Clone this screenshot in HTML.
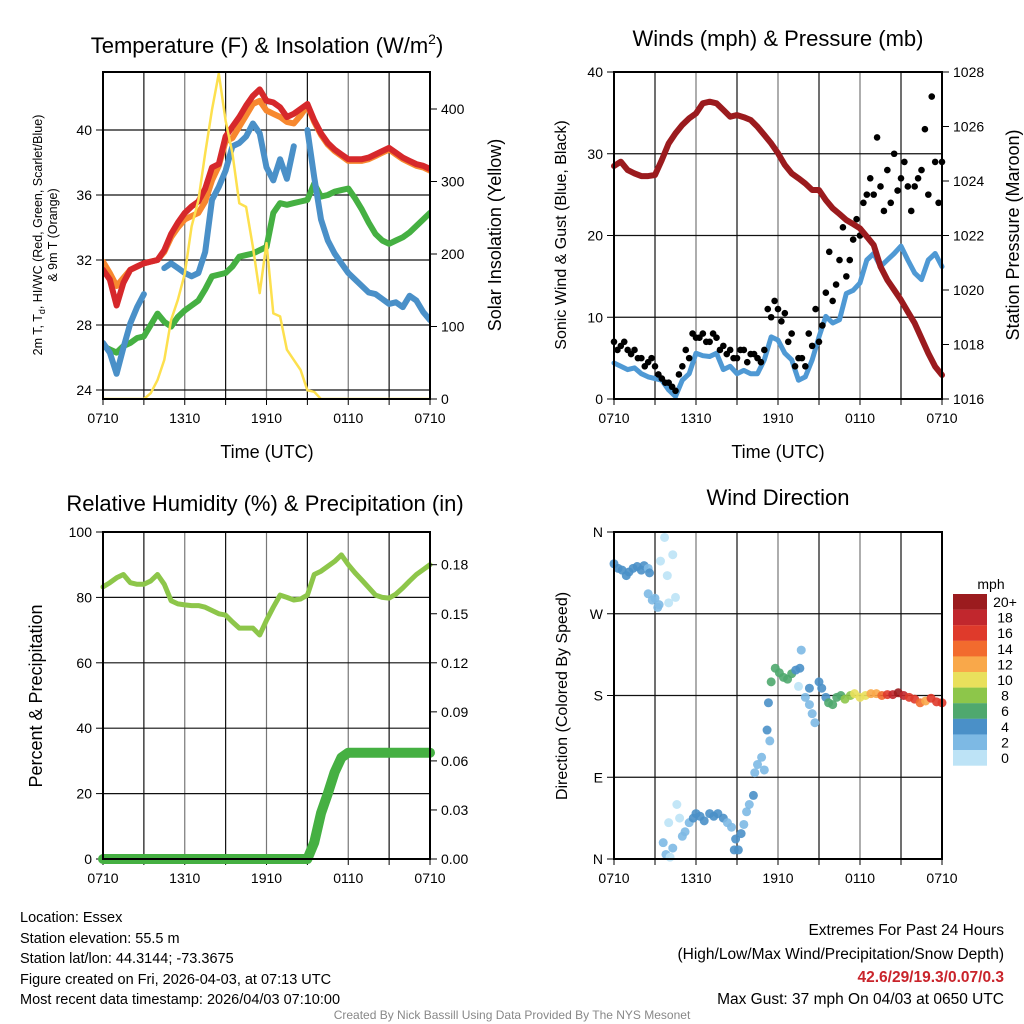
<!DOCTYPE html>
<html><head><meta charset="utf-8"><style>
html,body{margin:0;padding:0;background:#fff;}
svg{display:block;font-family:"Liberation Sans",Arial,sans-serif;}
</style></head><body>
<svg id="fig" width="1024" height="1024" viewBox="0 0 1024 1024" xmlns="http://www.w3.org/2000/svg">
<rect width="1024" height="1024" fill="#fff"/>
<g id="layer"></g>
<text x="267" y="53" font-size="22" text-anchor="middle">Temperature (F) &amp; Insolation (W/m<tspan dy="-9" font-size="14">2</tspan><tspan dy="9">)</tspan></text>
<text x="778" y="46" font-size="22" text-anchor="middle">Winds (mph) &amp; Pressure (mb)</text>
<text x="265" y="511" font-size="22" text-anchor="middle">Relative Humidity (%) &amp; Precipitation (in)</text>
<text x="778" y="505" font-size="22" text-anchor="middle">Wind Direction</text>
<text x="267" y="458" font-size="18" text-anchor="middle">Time (UTC)</text>
<text x="778" y="458" font-size="18" text-anchor="middle">Time (UTC)</text>
<text transform="translate(42,235) rotate(-90)" font-size="12.5" text-anchor="middle">2m T, T<tspan dy="3" font-size="9">d</tspan><tspan dy="-3">, HI/WC (Red, Green, Scarlet/Blue)</tspan></text>
<text transform="translate(57,235) rotate(-90)" font-size="12.5" text-anchor="middle">&amp; 9m T (Orange)</text>
<text transform="translate(501,235) rotate(-90)" font-size="18" text-anchor="middle">Solar Insolation (Yellow)</text>
<text transform="translate(566,235) rotate(-90)" font-size="16" text-anchor="middle">Sonic Wind &amp; Gust (Blue, Black)</text>
<text transform="translate(1019,235) rotate(-90)" font-size="18" text-anchor="middle">Station Pressure (Maroon)</text>
<text transform="translate(42,696) rotate(-90)" font-size="18" text-anchor="middle">Percent &amp; Precipitation</text>
<text transform="translate(567,696) rotate(-90)" font-size="16" text-anchor="middle">Direction (Colored By Speed)</text>
<g font-size="14.5">
<text x="20" y="922">Location: Essex</text>
<text x="20" y="943">Station elevation: 55.5 m</text>
<text x="20" y="963">Station lat/lon: 44.3144; -73.3675</text>
<text x="20" y="984">Figure created on Fri, 2026-04-03, at 07:13 UTC</text>
<text x="20" y="1004">Most recent data timestamp: 2026/04/03 07:10:00</text>
</g>
<g font-size="15.5" text-anchor="end">
<text x="1004" y="935">Extremes For Past 24 Hours</text>
<text x="1004" y="959">(High/Low/Max Wind/Precipitation/Snow Depth)</text>
<text x="1004" y="982" fill="#c9242b" font-weight="bold">42.6/29/19.3/0.07/0.3</text>
<text x="1004" y="1004">Max Gust: 37 mph On 04/03 at 0650 UTC</text>
</g>
<text x="512" y="1019" font-size="12" fill="#888" text-anchor="middle">Created By Nick Bassill Using Data Provided By The NYS Mesonet</text>
</svg>
<script>
const hours = [0,0.5,1,1.5,2,2.5,3,3.5,4,4.5,5,5.5,6,6.5,7,7.5,8,8.5,9,9.5,10,10.5,11,11.5,12,12.5,13,13.5,14,14.5,15,15.5,16,16.5,17,17.5,18,18.5,19,19.5,20,20.5,21,21.5,22,22.5,23,23.5,24];
const temp2m = [31.4,30.8,29.2,30.6,31.4,31.6,31.8,31.9,32.0,32.6,33.6,34.3,34.9,35.3,35.6,36.4,37.7,37.9,39.6,40.2,40.8,41.5,42.1,42.5,41.8,41.7,41.4,40.8,41.0,41.3,41.6,40.6,39.8,39.2,38.8,38.5,38.2,38.2,38.2,38.3,38.5,38.7,38.9,38.6,38.3,38.1,37.9,37.8,37.6];
const temp9m = [31.9,31.2,30.4,30.9,31.4,31.6,31.8,31.9,32.0,32.5,33.4,34.0,34.5,34.7,34.9,35.6,36.9,37.8,39.3,39.5,40.2,40.9,41.6,41.8,41.2,41.0,40.8,40.5,40.4,40.9,41.5,40.5,39.7,39.1,38.7,38.4,38.1,38.1,38.1,38.2,38.4,38.6,38.8,38.5,38.2,38.0,37.8,37.7,37.5];
const heatWC = [26.9,26.3,25.0,26.6,28.1,29.1,29.9,null,null,31.5,31.8,31.5,31.2,31.0,31.2,32.5,35.7,36.5,37.5,39.0,39.2,39.6,40.4,39.8,37.7,36.9,38.2,37.0,39.0,null,40.0,37.1,34.5,33.2,32.4,31.8,31.2,30.8,30.4,30.0,29.9,29.6,29.3,29.4,29.1,29.8,29.5,28.8,28.3];
const dewpt = [26.7,26.5,26.3,26.7,26.9,27.2,27.3,28.0,28.7,28.2,27.9,28.5,28.9,29.2,29.5,30.2,31.0,31.1,31.2,31.6,32.2,32.3,32.4,32.6,32.8,34.9,35.5,35.4,35.5,35.6,35.7,36.7,35.9,36.0,36.2,36.3,36.4,35.8,35.1,34.3,33.6,33.2,33.0,33.2,33.4,33.7,34.1,34.5,34.9];
const solar = [0,0,0,0,0,0,0,8,26,54,109,137,173,238,274,339,399,449,384,339,270,265,210,146,215,118,114,68,54,40,12,10,0,0,0,0,0,0,0,0,0,0,0,0,0,0,0,0,0];
const windSpd = [4.4,4.0,3.6,3.8,3.1,2.7,2.5,2.3,1.1,0.3,2.3,3.1,5.6,5.3,5.2,5.6,3.6,4.0,3.1,3.5,3.1,3.1,4.8,7.6,7.2,5.6,4.8,2.3,2.7,4.8,7.6,10.1,9.3,9.7,12.9,13.3,14.2,17.0,17.8,16.2,17.0,17.8,18.7,17.0,15.4,14.6,17.0,17.8,16.2];
const gustA = [7,6.5,6,6,5,4.5,4,2.5,2,1,4,5,7.5,8,7,7.5,6.5,6,5,6,5.5,5,6,10,11,10.5,8,5,4,6.5,7,13,12,17,15,19.5,20,25,25,26,28,30,27,26,26,28,25,29,29];
const gustB = [6,7,5.5,5,4,5,3,2,1.5,3,6,8,7.5,7,8,6,5.5,5,6,4.5,5.5,4.5,11,12,9.5,7,4,5,8,11,9,18,14,21,17,22,24,27,32,23,24,25.5,29,23,27,33,37,24];
const pressure = [1024.55,1024.71,1024.40,1024.28,1024.18,1024.18,1024.22,1024.77,1025.38,1025.75,1026.06,1026.30,1026.48,1026.85,1026.91,1026.85,1026.61,1026.36,1026.42,1026.34,1026.24,1025.99,1025.69,1025.38,1025.02,1024.59,1024.28,1024.10,1023.91,1023.67,1023.67,1023.30,1023.00,1022.79,1022.57,1022.42,1022.26,1021.96,1021.65,1020.86,1020.37,1020.00,1019.63,1019.20,1018.78,1018.23,1017.68,1017.19,1016.88];
const rh = [83.2,84.5,86,87,84.5,84,84,85,87,84,79,78,77.7,77.5,77.5,77,76,75,74.6,72.5,70.6,70.6,70.6,68.5,73,77,80.7,80,79.2,79.5,80.7,87,88,89.5,91,93,90,87.5,85.3,83,80.7,80,79.8,81,82.9,85,87,88.5,90];
const precip = [0,0,0,0,0,0,0,0,0,0,0,0,0,0,0,0,0,0,0,0,0,0,0,0,0,0,0,0,0,0,0,0.01,0.028,0.04,0.053,0.062,0.065,0.065,0.065,0.065,0.065,0.065,0.065,0.065,0.065,0.065,0.065,0.065,0.065];
const wdHour = [0,0.3,0.6,0.9,1.1,1.4,1.7,2.0,2.2,2.5,2.6,2.5,2.8,3.0,3.2,3.3,3.7,3.4,4.3,3.9,4.5,4.0,3.6,3.8,4.1,4.3,4.0,4.6,4.8,5.0,5.2,5.5,5.8,6.0,6.3,6.6,7.0,7.3,7.6,8.0,8.3,8.6,8.9,8.8,9.1,9.3,9.5,9.7,9.9,10.2,10.3,10.5,10.8,11.0,11.2,11.4,11.3,11.5,11.8,12.1,12.4,12.7,13.0,13.3,13.6,13.7,13.5,14.0,14.3,14.5,14.7,14.3,15.0,15.2,15.5,15.7,16.0,16.3,16.6,16.9,17.3,17.6,18.0,18.4,18.8,19.2,19.6,20.0,20.4,20.8,21.2,21.6,22.0,22.4,22.8,23.2,23.6,24];
const wdDir = [325,320,318,312,316,320,322,318,323,320,315,292,285,287,277,280,354,328,335,312,288,282,18,5,2,12,40,60,45,25,30,40,45,50,47,42,50,47,50,45,40,35,22,10,10,28,38,52,60,70,95,104,112,98,142,130,172,195,210,205,200,198,204,208,210,230,190,178,170,160,150,188,195,188,178,172,170,178,180,176,180,182,178,180,182,182,180,181,181,183,180,178,176,172,174,177,173,172];
const wdSpd = [4,4,4,4,4,4,4,4,4,3,4,3,3,3,3,3,1,1,1,1,1,1,2,2,1,2,1,1,1,2,2,3,4,5,4,4,4,4,4,4,3,3,4,4,4,4,2,2,2,4,2,2,3,2,4,3,5,6,7,7,6,6,7,5,4,3,1,2,2,2,2,4,4,4,4,6,6,7,6,8,8,10,10,11,12,13,14,16,18,20,18,17,16,14,12,17,16,16];
const tickLabelsX = ["0710","1310","1910","0110","0710"];
const tempTicks = [24,28,32,36,40];
const solarTicks = [0,100,200,300,400];
const windTicks = [0,10,20,30,40];
const presTicks = [1016,1018,1020,1022,1024,1026,1028];
const rhTicks = [0,20,40,60,80,100];
const precipTicks = [0.00,0.03,0.06,0.09,0.12,0.15,0.18];
const dirTicks = [0,90,180,270,360];
const dirLabels = ["N","E","S","W","N"];
const cbarLabels = ["20+","18","16","14","12","10","8","6","4","2","0"];
const cbarColors = ["#9b1b1e","#c1272d","#df3a2b","#f26b2e","#f9a84a","#e9e05c","#8dc64a","#4fa86e","#4a90c8","#7db9e4","#bde3f6"];

const NS="http://www.w3.org/2000/svg";
const layer=document.getElementById('layer');
function mk(tag,attrs,parent){const e=document.createElementNS(NS,tag);for(const k in attrs)e.setAttribute(k,attrs[k]);(parent||layer).appendChild(e);return e;}
function lin(d0,d1,r0,r1){return v=>r0+(v-d0)*(r1-r0)/(d1-d0);}

function panel(name,x0,x1,y0,y1,yl,ylTicks,ylLabels,hGrid){
  const g=mk('g',{});
  
  
  const xs=lin(0,24,x0,x1);
  for(let h=3;h<24;h+=3){const l=mk('line',{x1:xs(h),x2:xs(h),y1:y0,y2:y1,stroke:(h%6===0?'#777':'#111'),'stroke-width':1.2},g);}
  hGrid.forEach(v=>{const l=mk('line',{x1:x0,x2:x1,y1:yl(v),y2:yl(v),stroke:'#111','stroke-width':1.2},g);});
  for(let h=0;h<=24;h+=3){mk('line',{x1:xs(h),x2:xs(h),y1:y1,y2:y1+6,stroke:'#000','stroke-width':1},g);}
  tickLabelsX.forEach((t,i)=>{const tx=mk('text',{x:xs(i*6),y:y1+24,'font-size':14,'text-anchor':'middle'},g);tx.textContent=t;});
  ylTicks.forEach((v,i)=>{mk('line',{x1:x0-7,x2:x0,y1:yl(v),y2:yl(v),stroke:'#000','stroke-width':1},g);
    const tx=mk('text',{x:x0-11,y:yl(v)+5,'font-size':14,'text-anchor':'end'},g);tx.textContent=ylLabels[i];});
  return {g,xs};
}
function frame(g,x0,x1,y0,y1){const r=mk('rect',{x:x0,y:y0,width:x1-x0,height:y1-y0,fill:'none',stroke:'#000','stroke-width':2},g);}
function rightAxis(g,x1,ys,ticks,labels){ticks.forEach((v,i)=>{mk('line',{x1:x1,x2:x1+7,y1:ys(v),y2:ys(v),stroke:'#000','stroke-width':1},g);
  const tx=mk('text',{x:x1+11,y:ys(v)+5,'font-size':14},g);tx.textContent=labels[i];});}
function pathOf(xs,ys,arr){let d='',pen=false;arr.forEach((v,i)=>{if(v===null){pen=false;return;}d+=(pen?'L':'M')+xs(hours[i]).toFixed(1)+','+ys(v).toFixed(1);pen=true;});return d;}
function series(g,name,xs,ys,arr,color,w){const p=mk('path',{d:pathOf(xs,ys,arr),fill:'none',stroke:color,'stroke-width':w,'stroke-linejoin':'round','stroke-linecap':'round'},g);return p;}

(function(){
  const x0=103,x1=430,y0=72,y1=399;
  const yl=lin(24,40,390,130), yr=lin(0,400,399,109);
  const {g,xs}=panel('temperature-panel',x0,x1,y0,y1,yl,tempTicks,tempTicks.map(String),tempTicks);
  const cp=mk('clipPath',{id:'c1'},g);mk('rect',{x:x0,y:y0,width:x1-x0,height:y1-y0},cp);
  const cg=mk('g',{'clip-path':'url(#c1)'},g);
  series(cg,'dewpoint-line',xs,yl,dewpt,'#45b042',6);
  series(cg,'heat-index-windchill-line',xs,yl,heatWC,'#4a90c8',6);
  series(cg,'temp-9m-line',xs,yl,temp9m,'#f7882f',6);
  series(cg,'temp-2m-line',xs,yl,temp2m,'#d6282b',6);
  series(cg,'solar-insolation-line',xs,yr,solar,'#fde04e',2.5);
  frame(g,x0,x1,y0,y1);
  rightAxis(g,x1,yr,solarTicks,solarTicks.map(String));
})();
(function(){
  const x0=614,x1=942,y0=72,y1=399;
  const yl=lin(0,40,399,72), yr=lin(1016,1028,399,72);
  const {g,xs}=panel('wind-pressure-panel',x0,x1,y0,y1,yl,windTicks,windTicks.map(String),[10,20,30]);
  series(g,'wind-speed-line',xs,yl,windSpd,'#4f99d4',5);
  gustA.forEach((v,i)=>{const c=mk('circle',{cx:xs(hours[i]),cy:yl(v),r:3.3,fill:'#000'},g);});
  gustB.forEach((v,i)=>{const c=mk('circle',{cx:xs(hours[i]+0.25),cy:yl(v),r:3.3,fill:'#000'},g);});
  series(g,'pressure-line',xs,yr,pressure,'#9b1b1e',6);
  frame(g,x0,x1,y0,y1);
  rightAxis(g,x1,yr,presTicks,presTicks.map(String));
})();
(function(){
  const x0=103,x1=430,y0=532,y1=859;
  const yl=lin(0,100,859,532), yr=lin(0,0.2,859,532);
  const {g,xs}=panel('humidity-precip-panel',x0,x1,y0,y1,yl,rhTicks,rhTicks.map(String),[20,40,60,80]);
  series(g,'relative-humidity-line',xs,yl,rh,'#8dc64a',5);
  series(g,'precipitation-line',xs,yr,precip,'#45b042',10);
  frame(g,x0,x1,y0,y1);
  rightAxis(g,x1,yr,precipTicks,precipTicks.map(v=>v.toFixed(2)));
})();
(function(){
  const x0=614,x1=942,y0=532,y1=859;
  const yl=lin(0,360,859,532);
  const {g,xs}=panel('wind-direction-panel',x0,x1,y0,y1,yl,dirTicks,dirLabels,[90,180,270]);
  function col(s){let k=Math.min(10,Math.floor(s/2));return cbarColors[10-k];}
  wdHour.forEach((h,i)=>{const c=mk('circle',{cx:xs(h),cy:yl(wdDir[i]),r:4.5,fill:col(wdSpd[i]),'fill-opacity':0.9},g);});
  frame(g,x0,x1,y0,y1);
  const cb=mk('g',{});
  
  
  const t=mk('text',{x:991,y:589,'font-size':14,'text-anchor':'middle'},cb);t.textContent='mph';
  cbarColors.forEach((c,i)=>{mk('rect',{x:953,y:594+i*15.6,width:34,height:15.7,fill:c},cb);
    const tx=mk('text',{x:1005,y:594+i*15.6+13,'font-size':14,'text-anchor':'middle'},cb);tx.textContent=cbarLabels[i];});
})();
</script>
</body></html>
